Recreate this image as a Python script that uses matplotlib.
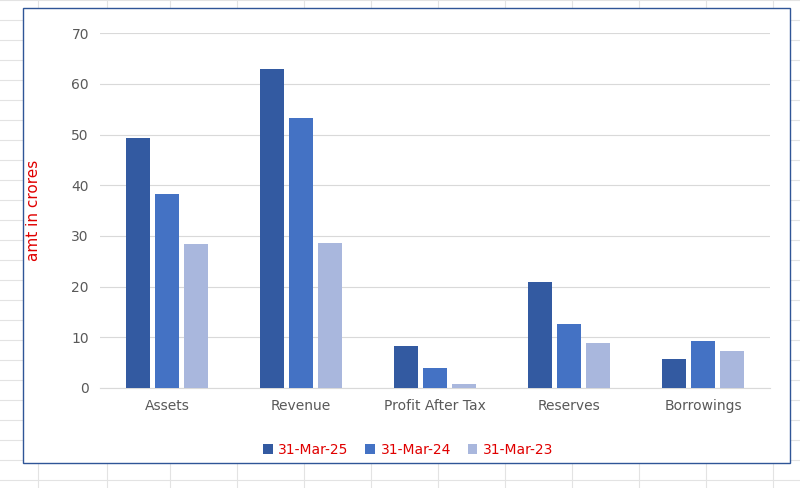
import matplotlib
matplotlib.use("Agg")
import matplotlib.pyplot as plt
import numpy as np
from matplotlib.patches import Rectangle

categories = ["Assets", "Revenue", "Profit After Tax", "Reserves", "Borrowings"]
series_names = ["31-Mar-25", "31-Mar-24", "31-Mar-23"]
mar25 = [49.4, 62.9, 8.3, 21.0, 5.8]
mar24 = [38.2, 53.2, 4.0, 12.7, 9.3]
mar23 = [28.5, 28.7, 0.8, 8.8, 7.3]
colors = ["#335AA1", "#4472C4", "#A9B7DD"]

fig = plt.figure(figsize=(8, 4.88), dpi=100)
# spreadsheet background grid
for y in range(0, 488, 20):
    fig.add_artist(plt.Line2D([0, 1], [1 - y / 488] * 2, color="#E3E3E3", lw=0.8, zorder=0))
for x in [38, 107, 170, 237, 304, 371, 438, 505, 572, 639, 706, 773]:
    fig.add_artist(plt.Line2D([x / 800] * 2, [0, 1], color="#E3E3E3", lw=0.8, zorder=0))
fig.add_artist(Rectangle((23 / 800, 1 - 463 / 488), 767 / 800, 455 / 488, transform=fig.transFigure,
                         facecolor="white", edgecolor="#2F5597", lw=1.0, zorder=1))

ax = fig.add_axes([0.125, 0.205, 0.8375, 0.727], zorder=2)
ax.set_facecolor("none")
x = np.arange(len(categories))
w = 0.175
off = 0.215
for i, (vals, name) in enumerate(zip([mar25, mar24, mar23], series_names)):
    ax.bar(x + (i - 1) * off, vals, w, color=colors[i], label=name, zorder=3)
ax.set_xlim(-0.5, 4.5)
ax.set_ylim(0, 70)
ax.set_yticks(range(0, 71, 10))
ax.yaxis.grid(True, color="#D9D9D9", lw=0.8, zorder=0)
for s in ["top", "right", "left"]:
    ax.spines[s].set_visible(False)
ax.spines["bottom"].set_color("#D9D9D9")
ax.tick_params(length=0, colors="#595959", labelsize=10, pad=8)
ax.set_xticks(x)
ax.set_xticklabels(categories)
ax.set_ylabel("amt in crores", color="#E00000", fontsize=11, labelpad=22)
leg = ax.legend(loc="upper center", bbox_to_anchor=(0.46, -0.12), ncol=3, frameon=False,
                fontsize=10, handlelength=0.7, handleheight=0.7, columnspacing=1.2, handletextpad=0.4)
for t in leg.get_texts():
    t.set_color("#E00000")
fig.savefig("out.png", dpi=100)
